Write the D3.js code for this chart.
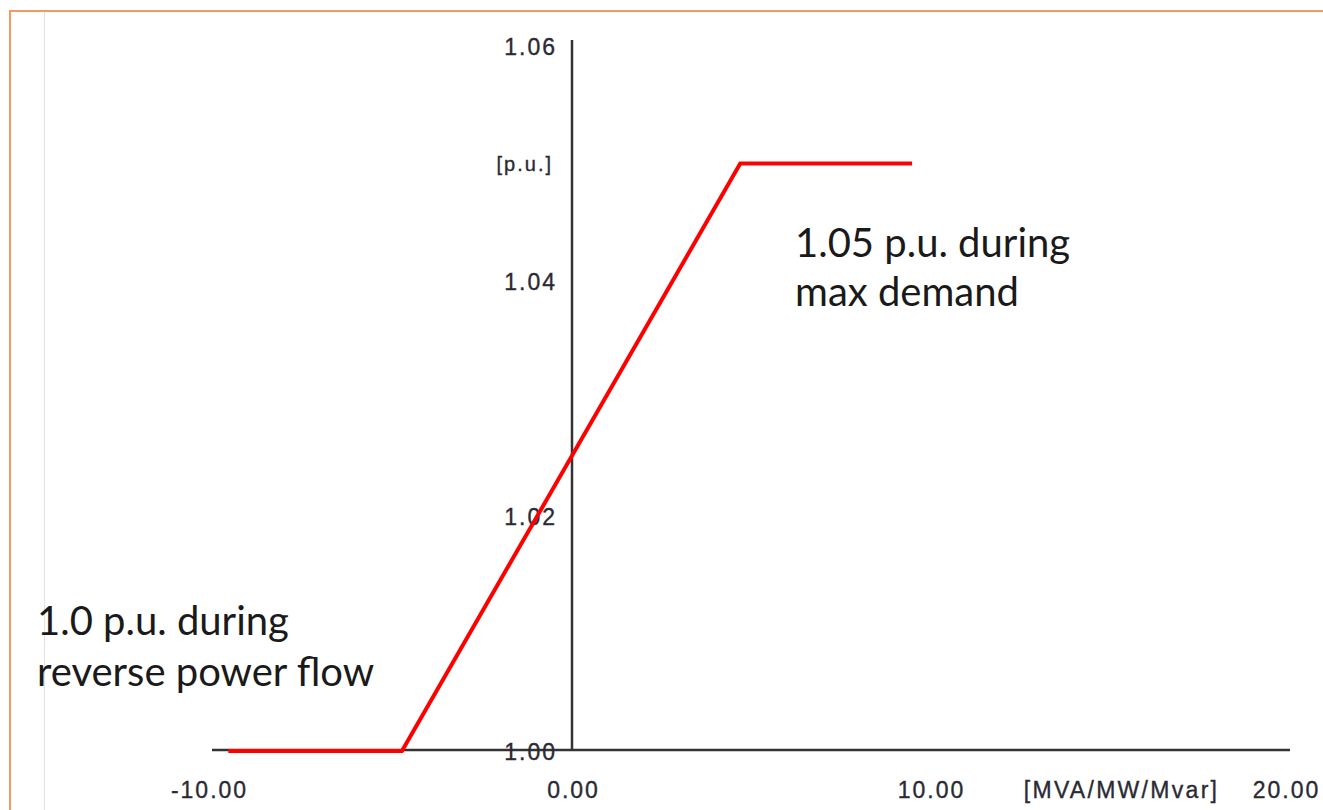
<!DOCTYPE html>
<html>
<head>
<meta charset="utf-8">
<script src="https://cdn.jsdelivr.net/npm/d3@7"></script>
<style>
  html, body { margin: 0; padding: 0; background: #ffffff; }
  svg { display: block; }
  .tick-label { font-family: "Liberation Sans", Arial, sans-serif; font-size: 23px; fill: #2a2a35;
                stroke: #2a2a35; stroke-width: 0.35px; letter-spacing: 2px; }
  .note { font-family: Lato, "Open Sans", sans-serif; font-size: 40px; fill: #1a1a1a; }
</style>
</head>
<body>
<svg id="chart" width="1323" height="810"></svg>
<script>
// Voltage set-point characteristic versus power flow
const powerPoints = [-9.6, -4.75, 4.7, 9.5];          // MVA/MW/Mvar
const voltagePoints = [1.00, 1.00, 1.05, 1.05];       // p.u.

const xTicks = [-10, 0, 10, 20];
const yTicks = [1.00, 1.02, 1.04, 1.06];
const xUnit = "[MVA/MW/Mvar]";
const yUnit = "[p.u.]";
const noteMax = ["1.05 p.u. during", "max demand"];
const noteReverse = ["1.0 p.u. during", "reverse power flow"];

const svg = d3.select("#chart");

const x = d3.scaleLinear().domain([-10, 20]).range([214, 1288]);
const y = d3.scaleLinear().domain([1.00, 1.06]).range([751, 46]);

// two-decimal labels with a plain hyphen for negatives
const fmt2 = d => d.toFixed(2);

// page frame
svg.append("line").attr("x1", 10).attr("x2", 1323).attr("y1", 11).attr("y2", 11)
  .attr("stroke", "#f29a62").attr("stroke-width", 2);
svg.append("line").attr("x1", 10).attr("x2", 10).attr("y1", 10).attr("y2", 810)
  .attr("stroke", "#f29a62").attr("stroke-width", 2);
svg.append("line").attr("x1", 44.5).attr("x2", 44.5).attr("y1", 12).attr("y2", 810)
  .attr("stroke", "#e2e2e2").attr("stroke-width", 1);

// horizontal axis
const xAxis = d3.axisBottom(x).tickValues(xTicks).tickSize(0).tickPadding(0)
  .tickFormat(fmt2);
const gx = svg.append("g").attr("transform", `translate(0,${y(1.00) - 1})`).call(xAxis);
gx.attr("font-size", null).attr("font-family", null);
gx.select(".domain").attr("stroke", "#333").attr("stroke-width", 2.5)
  .attr("d", `M${x(-10) - 2},0H${x(20) + 2}`);
gx.selectAll(".tick text").attr("class", "tick-label").attr("dy", null)
  .attr("fill", null)
  .attr("y", 48).attr("dx", (d, i) => i === 3 ? -2 : (i === 0 ? -5 : 1));

gx.append("text").attr("class", "tick-label").attr("x", x(15.35)).attr("y", 48)
  .attr("text-anchor", "middle").style("letter-spacing", "2.3px").text(xUnit);

// vertical axis
const yAxis = d3.axisLeft(y).tickValues(yTicks).tickSize(0).tickPadding(15)
  .tickFormat(fmt2);
const gy = svg.append("g").attr("transform", `translate(${x(0)},0)`).call(yAxis);
gy.attr("font-size", null).attr("font-family", null);
gy.select(".domain").attr("stroke", "#333").attr("stroke-width", 2.5)
  .attr("d", `M0,40V${y(1.00)}`);
gy.selectAll(".tick text").attr("class", "tick-label").attr("dy", "0.36em")
  .attr("fill", null).attr("text-anchor", "end");

gy.append("text").attr("class", "tick-label").attr("x", -19).attr("y", y(1.05) + 7)
  .attr("text-anchor", "end").style("font-size", "20px").style("letter-spacing", "2px")
  .text(yUnit);

// characteristic curve
const pts = powerPoints.map((p, i) => [p, voltagePoints[i]]);
svg.append("path").datum(pts)
  .attr("d", d3.line().x(d => x(d[0])).y(d => y(d[1])))
  .attr("fill", "none").attr("stroke", "#ff0000").attr("stroke-width", 4)
  .attr("stroke-linejoin", "miter");

// annotations
const t1 = svg.append("text").attr("class", "note").attr("x", 795).attr("y", 257);
t1.selectAll("tspan").data(noteMax).join("tspan")
  .attr("x", 795).attr("dy", (d, i) => i ? 49 : 0).text(d => d);

const t2 = svg.append("text").attr("class", "note").attr("x", 37).attr("y", 635);
t2.selectAll("tspan").data(noteReverse).join("tspan")
  .attr("x", 37).attr("dy", (d, i) => i ? 51 : 0).text(d => d);
</script>
</body>
</html>
